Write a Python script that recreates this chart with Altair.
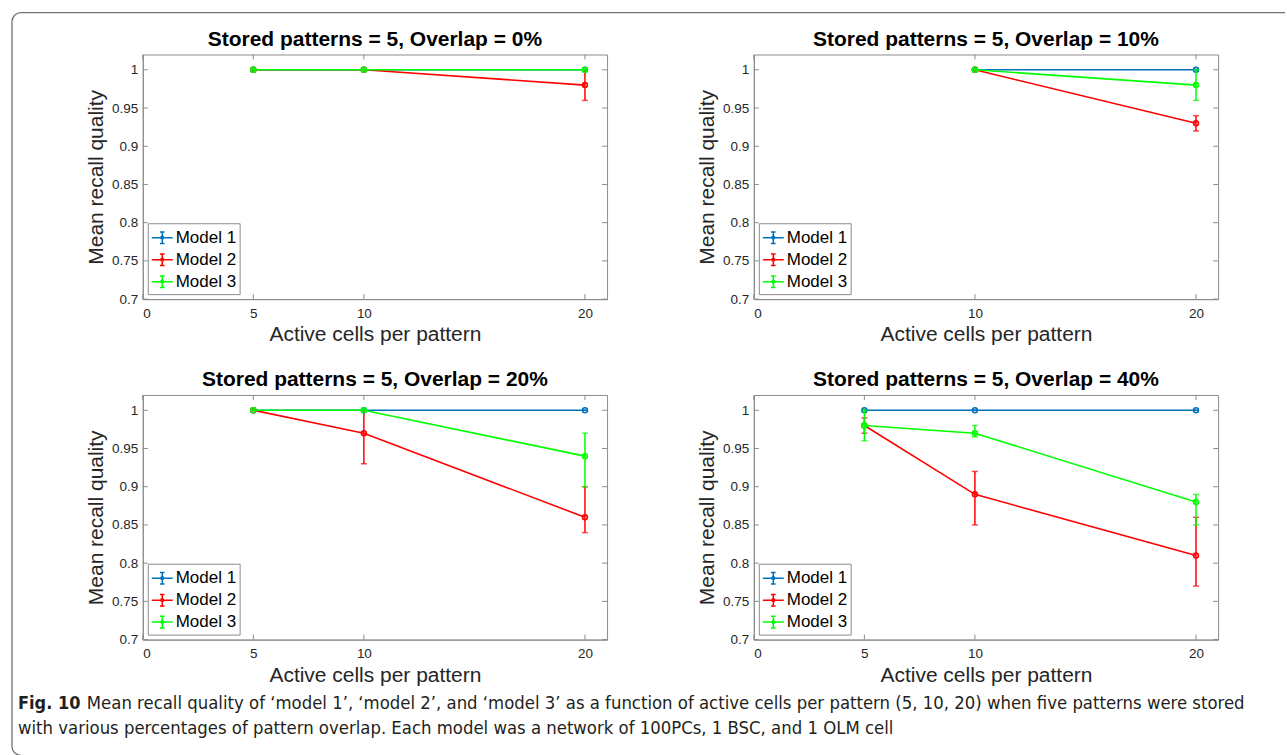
import altair as alt
import pandas as pd

# ---- data -----------------------------------------------------------------
MODELS = ["Model 1", "Model 2", "Model 3"]
COLORS = ["#0072BD", "#FF0000", "#00FF00"]
OVERLAPS = ["0%", "10%", "20%", "40%"]

active_cells = {
    "0%": [5, 10, 20],
    "10%": [10, 20],
    "20%": [5, 10, 20],
    "40%": [5, 10, 20],
}

# mean recall quality per model
mean_quality = {
    "0%": {"Model 1": [1.00, 1.00, 1.00], "Model 2": [1.00, 1.00, 0.98], "Model 3": [1.00, 1.00, 1.00]},
    "10%": {"Model 1": [1.00, 1.00], "Model 2": [1.00, 0.93], "Model 3": [1.00, 0.98]},
    "20%": {"Model 1": [1.00, 1.00, 1.00], "Model 2": [1.00, 0.97, 0.86], "Model 3": [1.00, 1.00, 0.94]},
    "40%": {"Model 1": [1.00, 1.00, 1.00], "Model 2": [0.98, 0.89, 0.81], "Model 3": [0.98, 0.97, 0.88]},
}

# lower / upper ends of the error bars
err_low = {
    "0%": {"Model 1": [1.00, 1.00, 1.00], "Model 2": [1.00, 1.00, 0.96], "Model 3": [1.00, 1.00, 1.00]},
    "10%": {"Model 1": [1.00, 1.00], "Model 2": [1.00, 0.92], "Model 3": [1.00, 0.96]},
    "20%": {"Model 1": [1.00, 1.00, 1.00], "Model 2": [1.00, 0.93, 0.84], "Model 3": [1.00, 1.00, 0.90]},
    "40%": {"Model 1": [1.00, 1.00, 1.00], "Model 2": [0.97, 0.85, 0.77], "Model 3": [0.96, 0.965, 0.85]},
}
err_high = {
    "0%": {"Model 1": [1.00, 1.00, 1.00], "Model 2": [1.00, 1.00, 1.00], "Model 3": [1.00, 1.00, 1.00]},
    "10%": {"Model 1": [1.00, 1.00], "Model 2": [1.00, 0.94], "Model 3": [1.00, 1.00]},
    "20%": {"Model 1": [1.00, 1.00, 1.00], "Model 2": [1.00, 1.00, 0.90], "Model 3": [1.00, 1.00, 0.97]},
    "40%": {"Model 1": [1.00, 1.00, 1.00], "Model 2": [0.99, 0.92, 0.86], "Model 3": [1.00, 0.98, 0.89]},
}

y_ticks = [0.7, 0.75, 0.8, 0.85, 0.9, 0.95, 1.0]

caption_bold = "Fig. 10"
caption_line1 = ("Mean recall quality of \u2018model 1\u2019, \u2018model 2\u2019, and \u2018model 3\u2019 as a function "
                 "of active cells per pattern (5, 10, 20) when five patterns were stored")
caption_line2 = ("with various percentages of pattern overlap. Each model was a network of 100PCs, "
                 "1 BSC, and 1 OLM cell")

rows = []
for ov in OVERLAPS:
    for m in MODELS:
        for i, c in enumerate(active_cells[ov]):
            rows.append({"overlap": ov, "model": m, "cells": c,
                         "mean": mean_quality[ov][m][i],
                         "lo": err_low[ov][m][i], "hi": err_high[ov][m][i]})
df = pd.DataFrame(rows)

# ---- styling ---------------------------------------------------------------
W, H = 465, 245
FONT = "Liberation Sans, Arial, Helvetica, sans-serif"
CAP_FONT = "DejaVu Sans Condensed, Liberation Sans, sans-serif"
AX = "#8c8c8c"
TXT = "#262626"
BORDER = "#707070"
TICK = 5

color_scale = alt.Scale(domain=MODELS, range=COLORS)
legend_symbol = ("M-1,0H1M0,-0.55V0.55M-0.22,-0.55H0.22M-0.22,0.55H0.22"
                 "M0.13,0A0.13,0.13,0,1,1,-0.13,0A0.13,0.13,0,1,1,0.13,0Z")
legend = alt.Legend(
    title=None, orient="bottom-left", offset=5, symbolType=legend_symbol,
    symbolSize=440, symbolStrokeWidth=1.5, labelFontSize=17, labelFont=FONT,
    labelColor="#000000", padding=3, rowPadding=1, labelOffset=2,
    strokeColor=AX, fillColor="white",
)


def panel(ov, decorate=False):
    xs = active_cells[ov]
    xscale = alt.Scale(domain=[0, 21], nice=False, zero=False)
    yscale = alt.Scale(domain=[0.7, 1.02], nice=False, zero=False)
    xaxis = alt.Axis(values=[0] + xs, title="Active cells per pattern", ticks=False, tickSize=0,
                     grid=False, labelPadding=7, titlePadding=4, labelFontSize=13.5,
                     titleFontSize=21, titleFontWeight="normal", domainColor=AX,
                     labelColor=TXT, titleColor=TXT, labelFont=FONT, titleFont=FONT)
    yaxis = alt.Axis(values=y_ticks, format="~g", title="Mean recall quality", ticks=False,
                     tickSize=0, grid=False, labelPadding=5, titlePadding=5, labelFontSize=13.5,
                     titleFontSize=21, titleFontWeight="normal", domainColor=AX,
                     labelColor=TXT, titleColor=TXT, labelFont=FONT, titleFont=FONT)
    X = lambda f: alt.X(f, scale=xscale, axis=xaxis)
    Y = lambda f: alt.Y(f, scale=yscale, axis=yaxis)

    one = pd.DataFrame({"k": [0]})
    layers = []
    # inward tick marks on all four sides of the box
    xt = pd.DataFrame({"v": [0] + xs})
    yt = pd.DataFrame({"v": y_ticks})
    layers.append(alt.Chart(xt).mark_rule(color=AX, strokeWidth=1).encode(
        x=X("v:Q"), y=alt.value(0), y2=alt.value(TICK)))
    layers.append(alt.Chart(xt).mark_rule(color=AX, strokeWidth=1).encode(
        x=X("v:Q"), y=alt.value(H - TICK), y2=alt.value(H)))
    layers.append(alt.Chart(yt).mark_rule(color=AX, strokeWidth=1).encode(
        y=Y("v:Q"), x=alt.value(0), x2=alt.value(TICK)))
    layers.append(alt.Chart(yt).mark_rule(color=AX, strokeWidth=1).encode(
        y=Y("v:Q"), x=alt.value(W - TICK), x2=alt.value(W)))

    for m, col in zip(MODELS, COLORS):
        d = df[(df.overlap == ov) & (df.model == m)]
        base = alt.Chart(d)
        layers.append(base.mark_rule(color=col, strokeWidth=1.5).encode(
            x=X("cells:Q"), y=Y("lo:Q"), y2="hi:Q"))
        layers.append(base.mark_tick(color=col, orient="horizontal", size=6, thickness=1.5).encode(
            x=X("cells:Q"), y=Y("lo:Q")))
        layers.append(base.mark_tick(color=col, orient="horizontal", size=6, thickness=1.5).encode(
            x=X("cells:Q"), y=Y("hi:Q")))
        layers.append(base.mark_line(strokeWidth=1.6).encode(
            x=X("cells:Q"), y=Y("mean:Q"),
            color=alt.Color("model:N", scale=color_scale, legend=legend)))
        layers.append(base.mark_point(shape="circle", filled=False, size=24, strokeWidth=1.6,
                                      color=col, opacity=1).encode(
            x=X("cells:Q"), y=Y("mean:Q")))

    # panel heading
    layers.append(alt.Chart(one).mark_text(
        text=f"Stored patterns = 5, Overlap = {ov}", font=FONT, fontSize=21, fontWeight="bold",
        align="center", baseline="alphabetic", color="#000000").encode(
        x=alt.value(W / 2), y=alt.value(-9)))

    if decorate:
        # frame of the figure (top edge, left edge, rounded corners)
        layers.append(alt.Chart(one).mark_rule(color=BORDER, strokeWidth=1.3).encode(
            x=alt.value(-122), x2=alt.value(1144), y=alt.value(-42)))
        layers.append(alt.Chart(one).mark_rule(color=BORDER, strokeWidth=1.3).encode(
            x=alt.value(-131), y=alt.value(-33), y2=alt.value(693)))
        layers.append(alt.Chart(one).mark_arc(color=BORDER, radius=9.65, radius2=8.35,
                                              theta=4.7124, theta2=6.2832).encode(
            x=alt.value(-122), y=alt.value(-33)))
        layers.append(alt.Chart(one).mark_arc(color=BORDER, radius=9.65, radius2=8.35,
                                              theta=3.1416, theta2=4.7124).encode(
            x=alt.value(-122), y=alt.value(693)))
        # caption
        layers.append(alt.Chart(one).mark_text(
            text=caption_bold, font=CAP_FONT, fontSize=18, fontWeight="bold", align="left",
            baseline="alphabetic", color="#231f20").encode(x=alt.value(-125), y=alt.value(656)))
        layers.append(alt.Chart(one).mark_text(
            text=caption_line1, font=CAP_FONT, fontSize=18.4, align="left",
            baseline="alphabetic", color="#231f20").encode(x=alt.value(-56), y=alt.value(656)))
        layers.append(alt.Chart(one).mark_text(
            text=caption_line2, font=CAP_FONT, fontSize=18.4, align="left",
            baseline="alphabetic", color="#231f20").encode(x=alt.value(-125), y=alt.value(681)))

    return alt.layer(*layers).properties(width=W, height=H)


chart = alt.concat(
    panel("0%", decorate=True), panel("10%"), panel("20%"), panel("40%"),
    columns=2, bounds="flush", spacing={"row": 96, "column": 147},
).resolve_scale(color="independent").resolve_legend(color="independent").properties(
    padding={"left": 10, "top": 10, "right": 0, "bottom": 0},
    background="white",
).configure_view(stroke=AX, strokeWidth=1)

chart.save("out.html", embed_options={"renderer": "svg", "actions": False})
